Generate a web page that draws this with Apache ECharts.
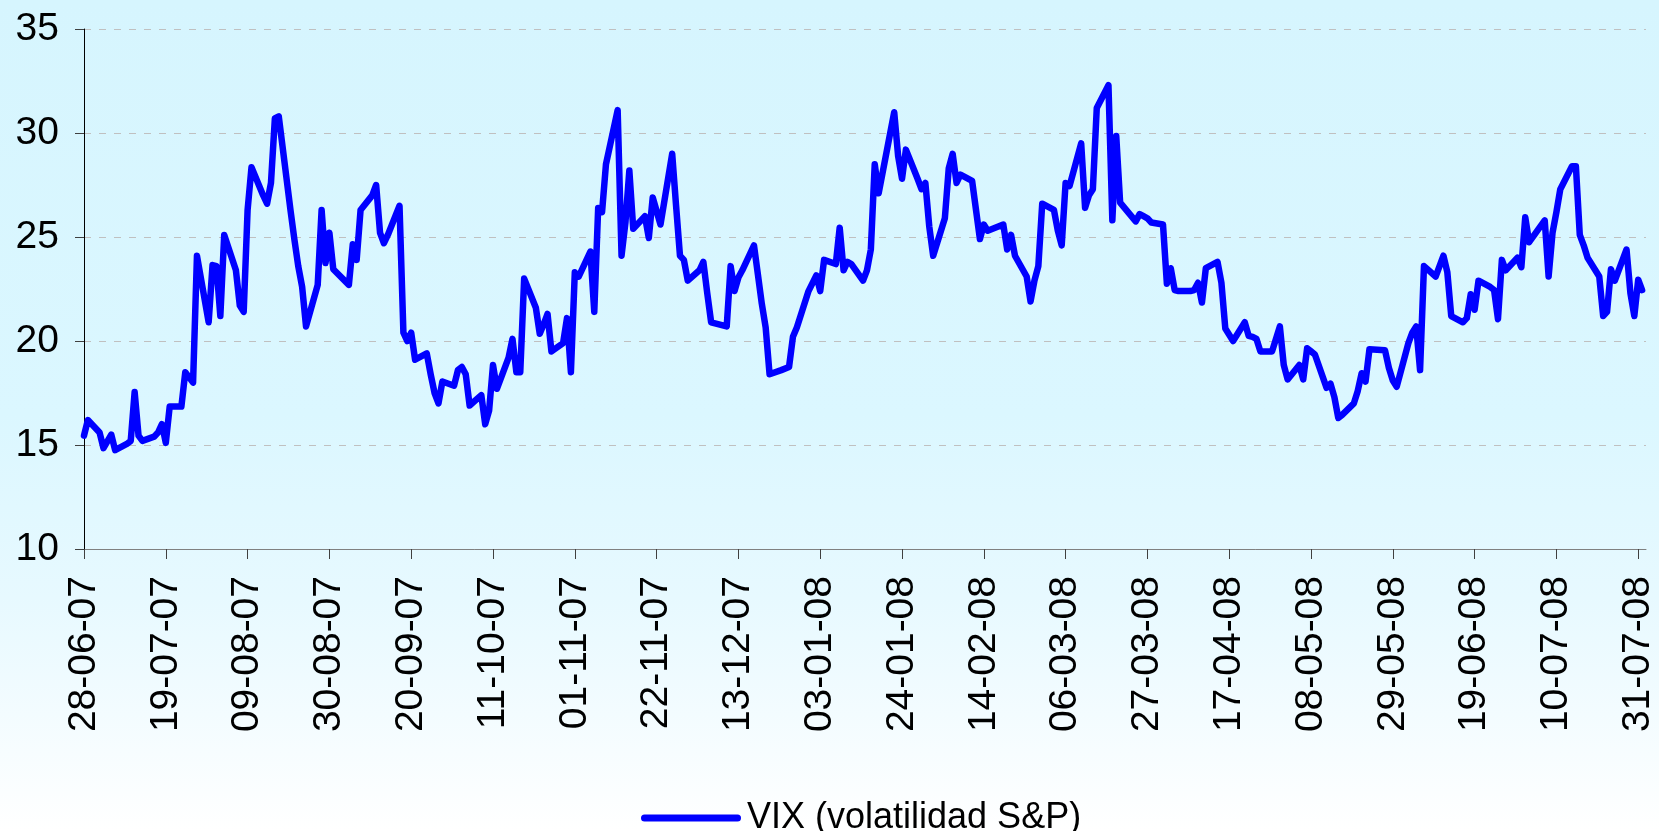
<!DOCTYPE html>
<html>
<head>
<meta charset="utf-8">
<script src="https://cdn.jsdelivr.net/npm/echarts@6/dist/echarts.min.js"></script>
<style>
  html, body { margin: 0; padding: 0; background: #ffffff; }
  #chart { width: 1659px; height: 831px; }
</style>
</head>
<body>
<div id="chart"></div>
<script>
// ---- Data -------------------------------------------------------------
const seriesName = 'VIX (volatilidad S&P)';
const startDate = '2007-06-28';
const endDate = '2008-08-01';
// US market holidays (no quote)
const holidays = ['2007-07-04', '2007-09-03', '2007-11-22', '2007-12-25', '2008-01-01',
                  '2008-01-21', '2008-02-18', '2008-03-21', '2008-05-26', '2008-07-04'];
// Axis tick labels (every 3 weeks)
const tickLabels = ['28-06-07', '19-07-07', '09-08-07', '30-08-07', '20-09-07', '11-10-07',
                    '01-11-07', '22-11-07', '13-12-07', '03-01-08', '24-01-08', '14-02-08',
                    '06-03-08', '27-03-08', '17-04-08', '08-05-08', '29-05-08', '19-06-08',
                    '10-07-08', '31-07-08'];
const yTicks = [10, 15, 20, 25, 30, 35];
// Daily VIX closes, one per trading day from startDate to endDate
const vix = [
  15.45, 16.2,
  15.6, 14.85, 15.5, 14.75,
  15.05, 15.2, 17.55, 15.45, 15.2,
  15.4, 15.6, 16.0, 15.1, 16.85,
  16.85, 18.5, 18.25, 18.0, 24.1,
  20.9, 23.65, 23.6, 21.2, 25.1,
  23.4, 21.7, 21.4, 26.3, 28.35,
  27.0, 26.6, 27.6, 30.7, 30.8,
  26.3, 24.9, 23.6, 22.6, 20.7,
  22.7, 26.3, 23.75, 25.2, 23.45,
  22.7, 24.65, 23.9, 26.3,
  27.0, 27.5, 25.2, 24.7, 25.1,
  26.5, 20.4, 20.0, 20.4, 19.1,
  19.4, 18.4, 17.5, 17.0, 18.05,
  17.85, 18.6, 18.75, 18.4, 16.9,
  17.4, 16.0, 16.65, 18.85, 17.7,
  19.2, 20.1, 18.5, 18.5, 23.0,
  21.6, 20.35, 20.8, 21.3, 19.5,
  19.9, 21.1, 18.5, 23.3, 23.1,
  24.3, 21.4, 26.4, 26.2, 28.5,
  31.1, 24.1, 25.7, 28.2, 25.4,
  26.0, 24.95, 26.9, 25.6,
  29.0, 26.5, 24.1, 23.9, 22.9,
  23.4, 23.8, 22.3, 20.9, 20.85,
  20.7, 23.6, 22.4, 23.05, 23.4,
  24.6, 23.2, 21.8, 20.65, 18.4,
  18.6, 18.75, 20.2, 20.65,
  22.4, 23.15, 22.4, 23.9,
  23.7, 25.45, 23.4, 23.8, 23.7,
  22.9, 23.4, 24.4, 28.5, 27.1,
  31.0, 28.9, 27.8, 29.2,
  27.8, 27.3, 27.6, 25.5, 24.1,
  25.9, 28.3, 29.0, 27.6, 28.0,
  27.7, 26.3, 24.9, 25.6, 25.3,
  25.6, 24.4, 25.1, 24.1,
  23.1, 21.9, 22.9, 23.6, 26.6,
  26.3, 25.3, 24.6, 27.6, 27.45,
  29.5, 26.4, 27.0, 27.3, 31.2,
  32.3, 25.8, 29.85, 26.65,
  25.75, 26.1, 26.0, 25.9, 25.7,
  25.6, 22.75, 23.5, 22.45, 22.4,
  22.4, 22.45, 22.8, 21.85, 23.5,
  23.8, 22.8, 20.6, 20.3, 20.0,
  20.9, 20.25, 20.2, 20.1, 19.5,
  19.5, 20.1, 20.7, 18.85, 18.15,
  18.85, 18.15, 19.65, 19.5, 19.35,
  17.75, 17.95, 17.3, 16.3, 16.45,
  17.0, 17.6, 18.45, 18.05, 19.6,
  19.55, 18.7, 18.1, 17.8,
  19.9, 20.4, 20.7, 18.6, 23.6,
  23.1, 23.6, 24.1, 23.3, 21.2,
  20.9, 21.1, 22.25, 21.5, 22.9,
  22.6, 22.45, 21.05, 23.9, 23.4,
  24.0, 23.55, 25.95, 24.75,
  25.8, 23.1, 25.2, 26.2, 27.3,
  28.4, 28.4, 25.1, 24.6, 24.0,
  23.1, 21.2, 21.4, 23.45, 22.9,
  24.4, 22.3, 21.2, 22.95, 22.45
];

// ---- Helpers ----------------------------------------------------------
const DAY = 86400000;
function parseISO(s) { const p = s.split('-').map(Number); return Date.UTC(p[0], p[1] - 1, p[2]); }
function parseDMY(s) { const p = s.split('-').map(Number); return Date.UTC(2000 + p[2], p[1] - 1, p[0]); }
const t0 = parseISO(startDate);
const t1 = parseISO(endDate);
const holidaySet = new Set(holidays.map(parseISO));
const tradingDays = [];
for (let t = t0; t <= t1; t += DAY) {
  const wd = new Date(t).getUTCDay();
  if (wd === 0 || wd === 6 || holidaySet.has(t)) continue;
  tradingDays.push(Math.round((t - t0) / DAY));
}
if (tradingDays.length !== vix.length) {
  console.error('length mismatch', tradingDays.length, vix.length);
}
const seriesData = vix.map((v, i) => [tradingDays[i], v]);
const tickDays = tickLabels.map(s => Math.round((parseDMY(s) - t0) / DAY));
const labelByDay = {};
tickDays.forEach((d, i) => { labelByDay[d] = tickLabels[i]; });

// ---- Chart ------------------------------------------------------------
const FONT = 'Liberation Sans, Arial, sans-serif';
const chart = echarts.init(document.getElementById('chart'), null, { renderer: 'canvas' });
chart.setOption({
  animation: false,
  backgroundColor: {
    type: 'linear', x: 0, y: 0, x2: 0, y2: 1,
    colorStops: [
      { offset: 0, color: '#D6F5FE' },
      { offset: 0.5, color: '#DBF7FF' },
      { offset: 0.72, color: '#E7F9FF' },
      { offset: 1, color: '#FFFFFF' }
    ]
  },
  grid: { left: 84, right: 13, top: 29, bottom: 282, containLabel: false, outerBoundsMode: 'none' },
  legend: {
    left: 636, top: 793,
    itemWidth: 100, itemHeight: 7, itemGap: 10,
    icon: 'path://M3.5,0 H96.5 A3.5,3.5 0 0 1 96.5,7 H3.5 A3.5,3.5 0 0 1 3.5,0 Z',
    data: [{ name: seriesName, itemStyle: { color: '#0000FF' } }],
    textStyle: { fontFamily: FONT, fontSize: 36, color: '#000000', lineHeight: 40, padding: [0, 0, 0, 1] }
  },
  xAxis: {
    type: 'value', min: 0, max: 401, interval: 21,
    axisLine: { show: true, lineStyle: { color: '#808080', width: 1 } },
    axisTick: { show: true, length: 10, customValues: tickDays, lineStyle: { color: '#404040', width: 1 } },
    splitLine: { show: false },
    axisLabel: {
      customValues: tickDays,
      rotate: 90, margin: 27,
      fontFamily: FONT, fontSize: 39, color: '#000000',
      formatter: v => labelByDay[Math.round(v)] || ''
    }
  },
  yAxis: {
    type: 'value', min: yTicks[0], max: yTicks[yTicks.length - 1], interval: 5,
    axisLine: { show: true, lineStyle: { color: '#000000', width: 1 } },
    axisTick: { show: true, length: 9, lineStyle: { color: '#404040', width: 1 } },
    splitLine: { show: true, lineStyle: { color: '#C0C0C0', width: 1, type: [7, 8] } },
    axisLabel: { margin: 25, fontFamily: FONT, fontSize: 39, color: '#000000' }
  },
  series: [{
    name: seriesName,
    type: 'line',
    data: seriesData,
    showSymbol: false,
    symbol: 'none',
    lineStyle: { color: '#0000FF', width: 6.5, join: 'round', cap: 'round' },
    itemStyle: { color: '#0000FF' }
  }]
});
</script>
</body>
</html>
